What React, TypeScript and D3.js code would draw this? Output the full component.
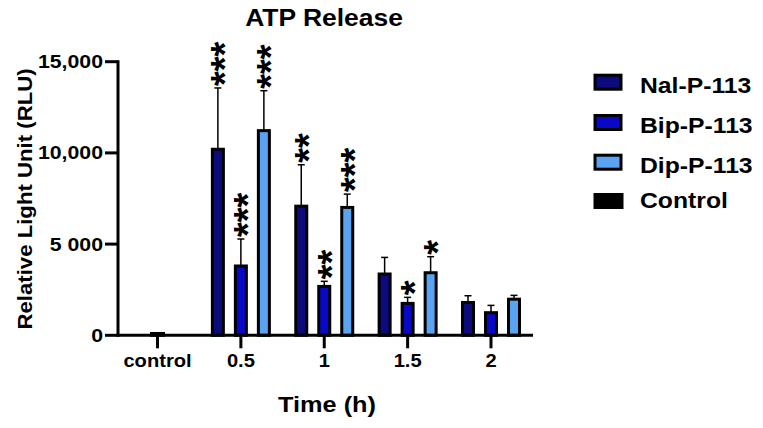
import React from "react";
import * as d3 from "d3";

const categories = ["control", "0.5", "1", "1.5", "2"];
const timePoints = ["0.5", "1", "1.5", "2"];
const seriesNames = ["Nal-P-113", "Bip-P-113", "Dip-P-113"];
const seriesColors = ["#0b0b7e", "#0808c6", "#5aa2f2"];
const nalValues = [10200, 7080, 3360, 1800];
const nalErrors = [3360, 2270, 910, 370];
const bipValues = [3800, 2680, 1750, 1240];
const bipErrors = [1480, 280, 330, 400];
const dipValues = [11220, 7010, 3430, 1980];
const dipErrors = [2190, 730, 880, 210];
const nalStars = ["***", "**", "", ""];
const bipStars = ["***", "**", "*", ""];
const dipStars = ["***", "***", "*", ""];
const controlValue = 100;
const yTicks = [0, 5000, 10000, 15000];
const yTickLabels = ["0", "5 000", "10,000", "15,000"];

const FONT = "'Liberation Sans', Arial, Helvetica, sans-serif";
const SX = 1.15;

function SText(props: {
  x: number;
  y: number;
  size: number;
  anchor?: string;
  rotate?: number;
  sx?: number;
  children: React.ReactNode;
}) {
  const { x, y, size, anchor = "start", rotate = 0, sx = SX, children } = props;
  return (
    <text
      transform={`translate(${x},${y}) rotate(${rotate}) scale(${sx},1)`}
      textAnchor={anchor}
      fontFamily={FONT}
      fontWeight="bold"
      fontSize={size}
      fill="#000"
    >
      {children}
    </text>
  );
}

export default function App() {
  const W = 763;
  const H = 428;
  const y = d3.scaleLinear().domain([0, 15000]).range([335.3, 61.7]);
  const x = d3.scalePoint<string>().domain(categories).range([157.5, 491]);
  const inner = d3.scalePoint<string>().domain(seriesNames).range([-23, 23]);
  const barW = 11;
  const axisLeft = 118;
  const axisRight = 533;

  const series = [
    { name: seriesNames[0], color: seriesColors[0], values: nalValues, errors: nalErrors, stars: nalStars },
    { name: seriesNames[1], color: seriesColors[1], values: bipValues, errors: bipErrors, stars: bipStars },
    { name: seriesNames[2], color: seriesColors[2], values: dipValues, errors: dipErrors, stars: dipStars },
  ];

  const starSize = 38;
  const starGap = 2;

  const legendRows = [92.7, 133, 172.7, 208];
  const legendItems = [
    ...series.map((s) => ({ name: s.name, color: s.color, solid: false })),
    { name: "Control", color: "#000", solid: true },
  ];

  return (
    <svg
      width={W}
      height={H}
      viewBox={`0 0 ${W} ${H}`}
      style={{ position: "absolute", left: 0, top: 0, background: "#fff" }}
    >
      <rect x={0} y={0} width={W} height={H} fill="#fff" />
      {/* Title */}
      <SText x={324} y={26} size={23} anchor="middle">
        ATP Release
      </SText>

      {/* Bars */}
      {series.map((s) =>
        timePoints.map((t, i) => {
          const cx = (x(t) as number) + (inner(s.name) as number);
          const top = y(s.values[i]);
          const errTop = y(s.values[i] + s.errors[i]);
          return (
            <g key={s.name + t}>
              <line x1={cx} x2={cx} y1={top} y2={errTop} stroke="#000" strokeWidth={1.5} />
              <line x1={cx - 3.5} x2={cx + 3.5} y1={errTop} y2={errTop} stroke="#000" strokeWidth={1.5} />
              <rect
                x={cx - barW / 2}
                y={top}
                width={barW}
                height={y(0) - top}
                fill={s.color}
                stroke="#000"
                strokeWidth={3}
              />
              {s.stars[i] && (
                <text
                  transform={`translate(${cx + 0.535 * starSize},${errTop - starGap}) rotate(-90)`}
                  textAnchor="start"
                  fontFamily={FONT}
                  fontWeight="bold"
                  fontSize={starSize}
                  fill="#000"
                >
                  {s.stars[i]}
                </text>
              )}
            </g>
          );
        })
      )}

      {/* Control bar */}
      <rect
        x={(x("control") as number) - 6}
        y={y(controlValue)}
        width={12}
        height={y(0) - y(controlValue)}
        fill="#000"
        stroke="#000"
        strokeWidth={3}
      />

      {/* Y axis */}
      <line x1={axisLeft} x2={axisLeft} y1={y(15000) - 1.5} y2={y(0) + 1.5} stroke="#000" strokeWidth={3} />
      {yTicks.map((v, i) => (
        <g key={v}>
          <line x1={axisLeft - 13} x2={axisLeft} y1={y(v)} y2={y(v)} stroke="#000" strokeWidth={3} />
          <SText x={103} y={y(v) + 6.5} size={18.5} anchor="end">
            {yTickLabels[i]}
          </SText>
        </g>
      ))}

      {/* X axis */}
      <line x1={axisLeft - 1.5} x2={axisRight} y1={y(0)} y2={y(0)} stroke="#000" strokeWidth={3} />
      {categories.map((c) => (
        <g key={c}>
          <line x1={x(c) as number} x2={x(c) as number} y1={y(0)} y2={y(0) + 13} stroke="#000" strokeWidth={3} />
          <SText x={x(c) as number} y={366.5} size={17.5} anchor="middle">
            {c}
          </SText>
        </g>
      ))}

      {/* Axis titles */}
      <SText x={327} y={412} size={22} anchor="middle">
        Time (h)
      </SText>
      <SText x={32} y={199} size={19.3} anchor="middle" rotate={-90}>
        Relative Light Unit (RLU)
      </SText>

      {/* Legend */}
      {legendItems.map((item, i) => {
        const by = legendRows[i];
        return (
          <g key={item.name}>
            {item.solid ? (
              <rect x={593.5} y={by - 15} width={30} height={16} fill="#000" />
            ) : (
              <rect x={595} y={by - 17.5} width={26} height={14} fill={item.color} stroke="#000" strokeWidth={3} />
            )}
            <SText x={640} y={by} size={21.5}>
              {item.name}
            </SText>
          </g>
        );
      })}
    </svg>
  );
}
